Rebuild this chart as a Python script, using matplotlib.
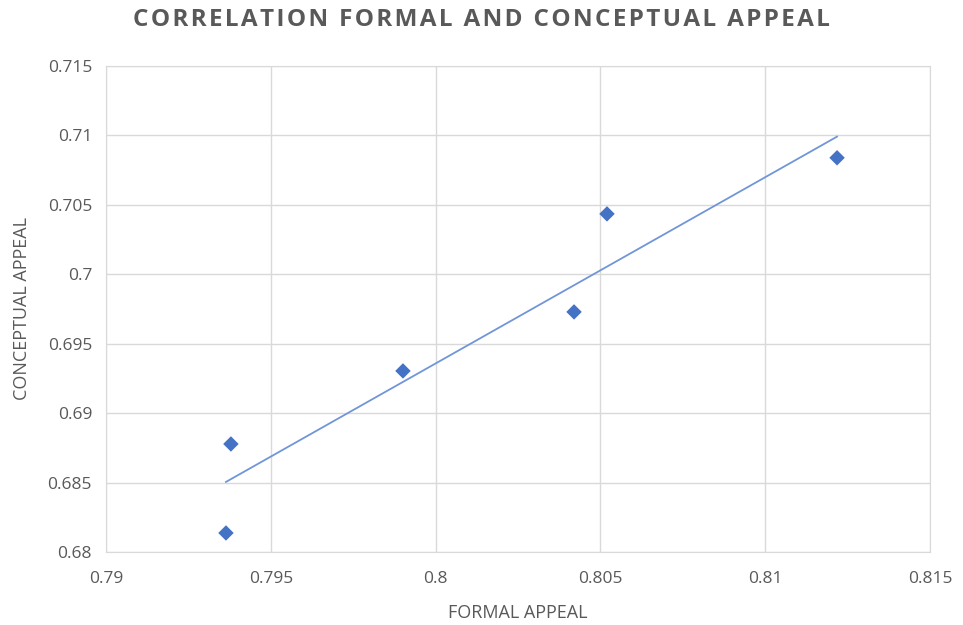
import numpy as np
import matplotlib
matplotlib.use("Agg")
import matplotlib.pyplot as plt

plt.rcParams['font.family'] = ['Open Sans', 'DejaVu Sans']

# Formal vs conceptual appeal scores
formal_appeal = [0.79364, 0.79379, 0.79901, 0.80420, 0.80520, 0.81218]
conceptual_appeal = [0.68137, 0.68778, 0.69304, 0.69729, 0.70435, 0.70839]

x_ticks = [0.79, 0.795, 0.8, 0.805, 0.81, 0.815]
x_tick_labels = ["0.79", "0.795", "0.8", "0.805", "0.81", "0.815"]
y_ticks = [0.68, 0.685, 0.69, 0.695, 0.7, 0.705, 0.71, 0.715]
y_tick_labels = ["0.68", "0.685", "0.69", "0.695", "0.7", "0.705", "0.71", "0.715"]

title = 'CORRELATION FORMAL AND CONCEPTUAL APPEAL'

W, H = 963, 625
fig = plt.figure(figsize=(W / 100, H / 100), dpi=100)
ax = fig.add_axes([106 / W, 1 - 552 / H, (930 - 106) / W, (552 - 66) / H])

marker_color = '#4472C4'
ax.scatter(formal_appeal, conceptual_appeal, marker='D', s=62, color=marker_color,
           edgecolors='none', zorder=3)

# Linear trendline across the data range
xs = np.array(formal_appeal)
ys = np.array(conceptual_appeal)
slope, intercept = np.polyfit(xs, ys, 1)
tx = np.array([xs.min(), xs.max()])
ax.plot(tx, slope * tx + intercept, color='#7096D8', lw=1.3, zorder=2)

ax.set_xlim(0.79, 0.815)
ax.set_ylim(0.68, 0.715)
ax.set_xticks(x_ticks)
ax.set_xticklabels(x_tick_labels)
ax.set_yticks(y_ticks)
ax.set_yticklabels(y_tick_labels)
ax.grid(True, color='#D9D9D9', lw=1)
ax.set_axisbelow(True)
for s in ax.spines.values():
    s.set_color('#D9D9D9')
ax.tick_params(length=0, labelsize=12.5, labelcolor='#595959')
ax.tick_params(axis='x', pad=14)
ax.tick_params(axis='y', pad=10)

ax.set_xlabel('FORMAL APPEAL', fontsize=13, color='#595959', labelpad=12)
ax.set_ylabel('CONCEPTUAL APPEAL', fontsize=13, color='#595959', labelpad=12)

# Letter-spaced chart title
spaced = '\u200a'.join(title)
fig.text(0.5, 1 - 20 / H, spaced, ha='center', va='center',
         fontsize=17.5, fontweight='bold', color='#595959')

fig.savefig('out.png', dpi=100, facecolor='white')
